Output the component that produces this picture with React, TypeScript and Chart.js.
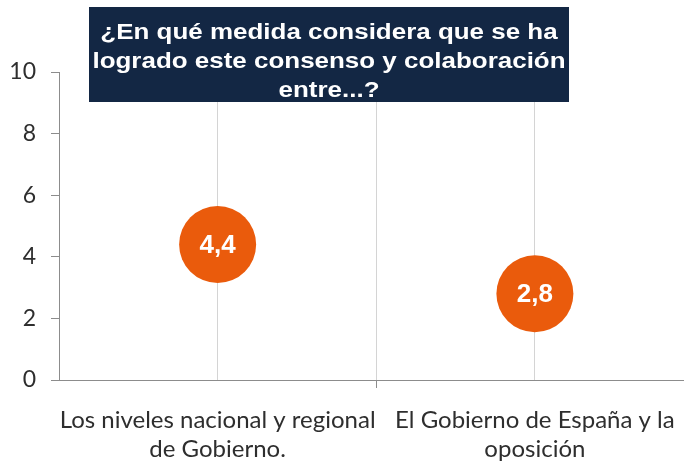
import React, { useEffect, useRef } from "react";
import { Chart, registerables } from "chart.js";

Chart.register(...registerables);

const categories: string[][] = [
  ["Los niveles nacional y regional", "de Gobierno."],
  ["El Gobierno de España y la", "oposición"],
];
const categoryPositions: number[] = [0.5, 1.5];
const values: number[] = [4.4, 2.8];
const titleLines: string[] = [
  "¿En qué medida considera que se ha",
  "logrado este consenso y colaboración",
  "entre...?",
];
const yTicks = { min: 0, max: 10, step: 2 };

const ORANGE = "#EA5B0C";
const NAVY = "#132744";
const AXIS = "#8C8C8C";
const GRID = "#D4D4D4";
const TEXT = "#2E2E2E";

const valueLabelPlugin = {
  id: "valueLabels",
  afterDatasetsDraw(chart: any) {
    const ctx = chart.ctx;
    const meta = chart.getDatasetMeta(0);
    ctx.save();
    ctx.fillStyle = "#FFFFFF";
    ctx.font = "bold 26px 'Liberation Sans', Arial, sans-serif";
    ctx.textAlign = "center";
    ctx.textBaseline = "middle";
    meta.data.forEach((pt: any, i: number) => {
      const txt = values[i].toFixed(1).replace(".", ",");
      ctx.fillText(txt, pt.x, pt.y + 1);
    });
    ctx.restore();
  },
};

const titleBoxPlugin = {
  id: "titleBox",
  afterDraw(chart: any) {
    const ctx = chart.ctx;
    const box = { x: 89, y: 7, w: 480, h: 95 };
    ctx.save();
    ctx.fillStyle = NAVY;
    ctx.fillRect(box.x, box.y, box.w, box.h);
    ctx.fillStyle = "#FFFFFF";
    ctx.font = "bold 22px 'Liberation Sans', Arial, sans-serif";
    ctx.textAlign = "center";
    ctx.textBaseline = "alphabetic";
    const cx = box.x + box.w / 2;
    const baselines = [39, 68, 97];
    titleLines.forEach((line, i) => {
      ctx.save();
      ctx.translate(cx, baselines[i]);
      ctx.scale(1.18, 1);
      ctx.fillText(line, 0, 0);
      ctx.restore();
    });
    ctx.restore();
  },
};

export default function App() {
  const ref = useRef<HTMLCanvasElement | null>(null);

  useEffect(() => {
    if (!ref.current) return;
    const points = values.map((v, i) => ({ x: categoryPositions[i], y: v }));
    const chart = new Chart(ref.current, {
      type: "scatter",
      data: {
        datasets: [
          {
            data: points,
            pointRadius: 38.5,
            pointHoverRadius: 38.5,
            pointBackgroundColor: ORANGE,
            pointBorderColor: ORANGE,
            pointBorderWidth: 0,
          },
        ],
      },
      options: {
        responsive: false,
        animation: false,
        layout: { autoPadding: false, padding: { top: 72, right: 0, left: 0, bottom: 0 } },
        plugins: {
          legend: { display: false },
          tooltip: { enabled: false },
          title: { display: false },
        },
        scales: {
          x: {
            type: "linear",
            min: 0,
            max: 1.97,
            afterBuildTicks: (scale: any) => {
              scale.ticks = [
                { value: categoryPositions[0] },
                { value: (categoryPositions[0] + categoryPositions[1]) / 2 },
                { value: categoryPositions[1] },
              ];
            },
            afterFit: (scale: any) => {
              scale.height = 83;
              scale.paddingLeft = 0;
              scale.paddingRight = 0;
            },
            border: { display: true, color: AXIS, width: 1 },
            grid: {
              display: true,
              drawOnChartArea: true,
              drawTicks: true,
              tickLength: 8,
              color: GRID,
              tickColor: (c: any) =>
                c.tick && categoryPositions.indexOf(c.tick.value) === -1 ? AXIS : "rgba(0,0,0,0)",
            },
            ticks: {
              autoSkip: false,
              maxRotation: 0,
              minRotation: 0,
              padding: 18,
              color: TEXT,
              font: { family: "Lato, 'Open Sans', sans-serif", size: 24 },
              callback: (value: any) => {
                const idx = categoryPositions.indexOf(Number(value));
                return idx >= 0 ? categories[idx] : "";
              },
            },
          },
          y: {
            min: yTicks.min,
            max: yTicks.max,
            afterFit: (scale: any) => {
              scale.width = 59;
              scale.paddingTop = 0;
              scale.paddingBottom = 0;
            },
            border: { display: true, color: AXIS, width: 1 },
            grid: {
              display: true,
              drawOnChartArea: false,
              drawTicks: true,
              tickLength: 8,
              tickColor: AXIS,
            },
            ticks: {
              stepSize: yTicks.step,
              padding: 15,
              color: TEXT,
              font: { family: "Lato, 'Open Sans', sans-serif", size: 23 },
            },
          },
        },
      },
      plugins: [valueLabelPlugin, titleBoxPlugin],
    });
    return () => chart.destroy();
  }, []);

  return (
    <div style={{ position: "fixed", left: 0, top: 0, width: 684, height: 463, background: "#fff" }}>
      <canvas ref={ref} width={684} height={463} style={{ display: "block" }} />
    </div>
  );
}
